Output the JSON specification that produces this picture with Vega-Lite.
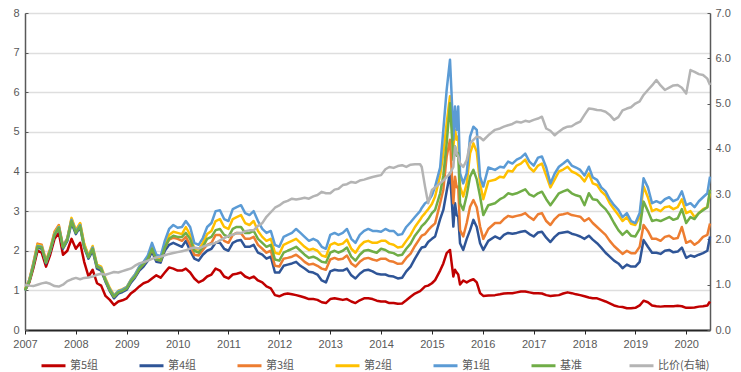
{
"$schema": "https://vega.github.io/schema/vega-lite/v6.json",
"width": 685, "height": 317,
"autosize": {"type": "none"},
"padding": {"left": 25, "top": 13, "right": 31, "bottom": 42},
"background": "white",
"config": {"view": {"stroke": null}, "axis": {"labelFont": "Liberation Sans", "labelFontSize": 11, "labelColor": "#595959"}},
"data": {"values": [
{"d":"2007-01-01","a5":1.0,"a4":1.0,"a3":1.02,"a2":1.02,"a1":1.0,"jz":1.0,"r":1.0},
{"d":"2007-02-01","a5":1.2,"a4":1.24,"a3":1.27,"a2":1.26,"a1":1.25,"jz":1.22,"r":0.98},
{"d":"2007-03-01","a5":1.55,"a4":1.62,"a3":1.68,"a2":1.66,"a1":1.64,"jz":1.6,"r":0.97},
{"d":"2007-04-01","a5":2.0,"a4":2.08,"a3":2.18,"a2":2.15,"a1":2.12,"jz":2.1,"r":1.0},
{"d":"2007-05-01","a5":1.95,"a4":2.05,"a3":2.15,"a2":2.12,"a1":2.1,"jz":2.08,"r":1.03},
{"d":"2007-06-01","a5":1.6,"a4":1.68,"a3":1.75,"a2":1.72,"a1":1.7,"jz":1.7,"r":1.05},
{"d":"2007-07-01","a5":1.9,"a4":1.98,"a3":2.05,"a2":2.02,"a1":2.0,"jz":2.0,"r":1.02},
{"d":"2007-08-01","a5":2.3,"a4":2.4,"a3":2.48,"a2":2.45,"a1":2.42,"jz":2.4,"r":0.97},
{"d":"2007-09-01","a5":2.45,"a4":2.58,"a3":2.65,"a2":2.62,"a1":2.6,"jz":2.58,"r":0.96},
{"d":"2007-10-01","a5":1.9,"a4":2.05,"a3":2.12,"a2":2.1,"a1":2.1,"jz":2.08,"r":1.0},
{"d":"2007-11-01","a5":2.0,"a4":2.25,"a3":2.32,"a2":2.3,"a1":2.3,"jz":2.28,"r":1.08},
{"d":"2007-12-01","a5":2.3,"a4":2.7,"a3":2.8,"a2":2.83,"a1":2.78,"jz":2.75,"r":1.12},
{"d":"2008-01-01","a5":2.05,"a4":2.42,"a3":2.5,"a2":2.52,"a1":2.48,"jz":2.45,"r":1.15},
{"d":"2008-02-01","a5":2.2,"a4":2.6,"a3":2.68,"a2":2.7,"a1":2.65,"jz":2.62,"r":1.12},
{"d":"2008-03-01","a5":1.72,"a4":2.08,"a3":2.15,"a2":2.18,"a1":2.12,"jz":2.1,"r":1.15},
{"d":"2008-04-01","a5":1.35,"a4":1.8,"a3":1.86,"a2":1.88,"a1":1.85,"jz":1.83,"r":1.16},
{"d":"2008-05-01","a5":1.52,"a4":2.0,"a3":2.08,"a2":2.12,"a1":2.08,"jz":2.05,"r":1.18},
{"d":"2008-06-01","a5":1.18,"a4":1.55,"a3":1.6,"a2":1.65,"a1":1.62,"jz":1.6,"r":1.22},
{"d":"2008-07-01","a5":1.12,"a4":1.5,"a3":1.55,"a2":1.6,"a1":1.56,"jz":1.54,"r":1.24},
{"d":"2008-08-01","a5":0.86,"a4":1.22,"a3":1.26,"a2":1.3,"a1":1.27,"jz":1.25,"r":1.22},
{"d":"2008-09-01","a5":0.76,"a4":0.98,"a3":1.02,"a2":1.06,"a1":1.03,"jz":1.0,"r":1.25},
{"d":"2008-10-01","a5":0.63,"a4":0.8,"a3":0.84,"a2":0.88,"a1":0.86,"jz":0.84,"r":1.28},
{"d":"2008-11-01","a5":0.72,"a4":0.92,"a3":0.96,"a2":0.99,"a1":0.98,"jz":0.95,"r":1.27},
{"d":"2008-12-01","a5":0.75,"a4":0.96,"a3":1.0,"a2":1.03,"a1":1.02,"jz":0.99,"r":1.3},
{"d":"2009-01-01","a5":0.8,"a4":1.02,"a3":1.06,"a2":1.09,"a1":1.08,"jz":1.05,"r":1.33},
{"d":"2009-02-01","a5":0.93,"a4":1.2,"a3":1.25,"a2":1.28,"a1":1.27,"jz":1.24,"r":1.36},
{"d":"2009-03-01","a5":1.0,"a4":1.32,"a3":1.36,"a2":1.4,"a1":1.4,"jz":1.35,"r":1.42},
{"d":"2009-04-01","a5":1.1,"a4":1.5,"a3":1.55,"a2":1.6,"a1":1.6,"jz":1.55,"r":1.47},
{"d":"2009-05-01","a5":1.18,"a4":1.6,"a3":1.66,"a2":1.7,"a1":1.72,"jz":1.66,"r":1.5},
{"d":"2009-06-01","a5":1.22,"a4":1.75,"a3":1.8,"a2":1.84,"a1":1.88,"jz":1.8,"r":1.53},
{"d":"2009-07-01","a5":1.3,"a4":1.98,"a3":2.05,"a2":2.12,"a1":2.2,"jz":2.05,"r":1.57},
{"d":"2009-08-01","a5":1.38,"a4":1.72,"a3":1.78,"a2":1.83,"a1":1.9,"jz":1.78,"r":1.6},
{"d":"2009-09-01","a5":1.32,"a4":1.7,"a3":1.75,"a2":1.8,"a1":1.86,"jz":1.75,"r":1.62},
{"d":"2009-10-01","a5":1.45,"a4":2.0,"a3":2.08,"a2":2.15,"a1":2.25,"jz":2.08,"r":1.65},
{"d":"2009-11-01","a5":1.58,"a4":2.15,"a3":2.28,"a2":2.4,"a1":2.55,"jz":2.3,"r":1.68},
{"d":"2009-12-01","a5":1.55,"a4":2.2,"a3":2.33,"a2":2.48,"a1":2.65,"jz":2.38,"r":1.7},
{"d":"2010-01-01","a5":1.5,"a4":2.15,"a3":2.3,"a2":2.45,"a1":2.58,"jz":2.35,"r":1.72},
{"d":"2010-02-01","a5":1.5,"a4":2.1,"a3":2.25,"a2":2.42,"a1":2.6,"jz":2.35,"r":1.74},
{"d":"2010-03-01","a5":1.55,"a4":2.25,"a3":2.35,"a2":2.6,"a1":2.75,"jz":2.45,"r":1.76},
{"d":"2010-04-01","a5":1.45,"a4":2.0,"a3":2.15,"a2":2.4,"a1":2.6,"jz":2.3,"r":1.8},
{"d":"2010-05-01","a5":1.3,"a4":1.8,"a3":1.9,"a2":2.05,"a1":2.2,"jz":2.0,"r":1.82},
{"d":"2010-06-01","a5":1.2,"a4":1.75,"a3":1.88,"a2":2.03,"a1":2.15,"jz":1.95,"r":1.8},
{"d":"2010-07-01","a5":1.25,"a4":1.9,"a3":2.02,"a2":2.2,"a1":2.32,"jz":2.1,"r":1.84},
{"d":"2010-08-01","a5":1.35,"a4":2.0,"a3":2.15,"a2":2.42,"a1":2.6,"jz":2.3,"r":1.87},
{"d":"2010-09-01","a5":1.4,"a4":2.05,"a3":2.2,"a2":2.5,"a1":2.7,"jz":2.35,"r":1.9},
{"d":"2010-10-01","a5":1.55,"a4":2.2,"a3":2.4,"a2":2.75,"a1":3.0,"jz":2.52,"r":1.92},
{"d":"2010-11-01","a5":1.5,"a4":2.2,"a3":2.4,"a2":2.8,"a1":3.02,"jz":2.55,"r":1.98},
{"d":"2010-12-01","a5":1.35,"a4":2.05,"a3":2.25,"a2":2.6,"a1":2.8,"jz":2.4,"r":2.03},
{"d":"2011-01-01","a5":1.3,"a4":2.0,"a3":2.2,"a2":2.55,"a1":2.75,"jz":2.35,"r":2.08},
{"d":"2011-02-01","a5":1.4,"a4":2.2,"a3":2.4,"a2":2.8,"a1":3.05,"jz":2.55,"r":2.1},
{"d":"2011-03-01","a5":1.42,"a4":2.25,"a3":2.45,"a2":2.85,"a1":3.1,"jz":2.6,"r":2.14},
{"d":"2011-04-01","a5":1.45,"a4":2.27,"a3":2.44,"a2":2.9,"a1":3.15,"jz":2.6,"r":2.14},
{"d":"2011-05-01","a5":1.35,"a4":2.1,"a3":2.3,"a2":2.7,"a1":2.95,"jz":2.45,"r":2.18},
{"d":"2011-06-01","a5":1.3,"a4":2.1,"a3":2.3,"a2":2.65,"a1":2.9,"jz":2.45,"r":2.2},
{"d":"2011-07-01","a5":1.35,"a4":2.15,"a3":2.35,"a2":2.75,"a1":3.0,"jz":2.5,"r":2.2},
{"d":"2011-08-01","a5":1.25,"a4":1.95,"a3":2.15,"a2":2.5,"a1":2.75,"jz":2.3,"r":2.3},
{"d":"2011-09-01","a5":1.2,"a4":1.9,"a3":2.05,"a2":2.35,"a1":2.55,"jz":2.2,"r":2.36},
{"d":"2011-10-01","a5":1.1,"a4":1.8,"a3":1.95,"a2":2.25,"a1":2.45,"jz":2.1,"r":2.5},
{"d":"2011-11-01","a5":1.05,"a4":1.85,"a3":2.0,"a2":2.3,"a1":2.5,"jz":2.15,"r":2.6},
{"d":"2011-12-01","a5":0.88,"a4":1.45,"a3":1.62,"a2":1.95,"a1":2.15,"jz":1.78,"r":2.7},
{"d":"2012-01-01","a5":0.85,"a4":1.45,"a3":1.6,"a2":1.92,"a1":2.1,"jz":1.75,"r":2.75},
{"d":"2012-02-01","a5":0.9,"a4":1.62,"a3":1.8,"a2":2.15,"a1":2.35,"jz":1.95,"r":2.82},
{"d":"2012-03-01","a5":0.92,"a4":1.65,"a3":1.82,"a2":2.2,"a1":2.4,"jz":2.0,"r":2.85},
{"d":"2012-04-01","a5":0.9,"a4":1.68,"a3":1.85,"a2":2.25,"a1":2.45,"jz":2.05,"r":2.9},
{"d":"2012-05-01","a5":0.88,"a4":1.72,"a3":1.9,"a2":2.3,"a1":2.55,"jz":2.1,"r":2.88},
{"d":"2012-06-01","a5":0.85,"a4":1.62,"a3":1.82,"a2":2.2,"a1":2.45,"jz":2.0,"r":2.9},
{"d":"2012-07-01","a5":0.82,"a4":1.55,"a3":1.72,"a2":2.1,"a1":2.35,"jz":1.9,"r":2.92},
{"d":"2012-08-01","a5":0.78,"a4":1.47,"a3":1.65,"a2":2.02,"a1":2.25,"jz":1.82,"r":2.9},
{"d":"2012-09-01","a5":0.78,"a4":1.45,"a3":1.67,"a2":2.05,"a1":2.3,"jz":1.85,"r":2.95},
{"d":"2012-10-01","a5":0.76,"a4":1.4,"a3":1.62,"a2":2.0,"a1":2.25,"jz":1.8,"r":2.98},
{"d":"2012-11-01","a5":0.7,"a4":1.25,"a3":1.55,"a2":1.88,"a1":2.1,"jz":1.72,"r":3.05},
{"d":"2012-12-01","a5":0.68,"a4":1.2,"a3":1.52,"a2":1.85,"a1":2.05,"jz":1.7,"r":3.02},
{"d":"2013-01-01","a5":0.78,"a4":1.48,"a3":1.78,"a2":2.15,"a1":2.4,"jz":1.95,"r":3.02},
{"d":"2013-02-01","a5":0.8,"a4":1.52,"a3":1.82,"a2":2.2,"a1":2.45,"jz":2.0,"r":3.1},
{"d":"2013-03-01","a5":0.78,"a4":1.5,"a3":1.78,"a2":2.15,"a1":2.4,"jz":1.95,"r":3.12},
{"d":"2013-04-01","a5":0.76,"a4":1.5,"a3":1.8,"a2":2.18,"a1":2.45,"jz":2.0,"r":3.2},
{"d":"2013-05-01","a5":0.78,"a4":1.55,"a3":1.88,"a2":2.28,"a1":2.55,"jz":2.08,"r":3.22},
{"d":"2013-06-01","a5":0.72,"a4":1.38,"a3":1.68,"a2":2.05,"a1":2.3,"jz":1.85,"r":3.27},
{"d":"2013-07-01","a5":0.68,"a4":1.3,"a3":1.6,"a2":1.95,"a1":2.2,"jz":1.75,"r":3.25},
{"d":"2013-08-01","a5":0.75,"a4":1.42,"a3":1.72,"a2":2.12,"a1":2.4,"jz":1.9,"r":3.3},
{"d":"2013-09-01","a5":0.8,"a4":1.5,"a3":1.8,"a2":2.22,"a1":2.5,"jz":2.0,"r":3.32},
{"d":"2013-10-01","a5":0.8,"a4":1.52,"a3":1.82,"a2":2.25,"a1":2.55,"jz":2.02,"r":3.35},
{"d":"2013-11-01","a5":0.78,"a4":1.48,"a3":1.78,"a2":2.2,"a1":2.5,"jz":1.98,"r":3.38},
{"d":"2013-12-01","a5":0.74,"a4":1.42,"a3":1.75,"a2":2.2,"a1":2.5,"jz":1.95,"r":3.4},
{"d":"2014-01-01","a5":0.72,"a4":1.4,"a3":1.8,"a2":2.25,"a1":2.48,"jz":2.05,"r":3.42},
{"d":"2014-02-01","a5":0.72,"a4":1.4,"a3":1.8,"a2":2.25,"a1":2.55,"jz":2.02,"r":3.55},
{"d":"2014-03-01","a5":0.68,"a4":1.36,"a3":1.74,"a2":2.18,"a1":2.5,"jz":1.96,"r":3.6},
{"d":"2014-04-01","a5":0.68,"a4":1.35,"a3":1.72,"a2":2.15,"a1":2.5,"jz":1.94,"r":3.58},
{"d":"2014-05-01","a5":0.66,"a4":1.3,"a3":1.67,"a2":2.08,"a1":2.4,"jz":1.88,"r":3.62},
{"d":"2014-06-01","a5":0.67,"a4":1.32,"a3":1.68,"a2":2.1,"a1":2.42,"jz":1.9,"r":3.64},
{"d":"2014-07-01","a5":0.75,"a4":1.48,"a3":1.82,"a2":2.25,"a1":2.6,"jz":2.05,"r":3.6},
{"d":"2014-08-01","a5":0.84,"a4":1.6,"a3":1.93,"a2":2.4,"a1":2.72,"jz":2.18,"r":3.65},
{"d":"2014-09-01","a5":0.92,"a4":1.8,"a3":2.12,"a2":2.6,"a1":2.85,"jz":2.38,"r":3.66},
{"d":"2014-10-08","a5":0.98,"a4":2.02,"a3":2.32,"a2":2.78,"a1":3.0,"jz":2.55,"r":3.66},
{"d":"2014-10-20","a5":1.02,"a4":2.08,"a3":2.38,"a2":2.85,"a1":3.08,"jz":2.62,"r":3.6},
{"d":"2014-11-13","a5":1.1,"a4":2.1,"a3":2.42,"a2":2.95,"a1":3.2,"jz":2.7,"r":3.16},
{"d":"2014-12-05","a5":1.12,"a4":2.22,"a3":2.52,"a2":3.05,"a1":3.25,"jz":2.8,"r":2.8},
{"d":"2015-01-01","a5":1.18,"a4":2.3,"a3":2.62,"a2":3.18,"a1":3.4,"jz":2.95,"r":3.09},
{"d":"2015-01-24","a5":1.26,"a4":2.36,"a3":2.69,"a2":3.37,"a1":3.62,"jz":3.03,"r":3.15},
{"d":"2015-03-01","a5":1.5,"a4":2.8,"a3":3.2,"a2":3.9,"a1":4.1,"jz":3.45,"r":3.24},
{"d":"2015-03-24","a5":1.68,"a4":3.03,"a3":3.54,"a2":4.46,"a1":5.05,"jz":3.9,"r":3.3},
{"d":"2015-04-17","a5":1.94,"a4":3.5,"a3":4.38,"a2":5.22,"a1":6.06,"jz":4.71,"r":3.38},
{"d":"2015-05-11","a5":2.02,"a4":3.96,"a3":4.8,"a2":5.9,"a1":6.82,"jz":5.72,"r":3.45},
{"d":"2015-05-23","a5":1.68,"a4":3.3,"a3":4.0,"a2":5.3,"a1":5.9,"jz":5.0,"r":3.53},
{"d":"2015-06-04","a5":1.35,"a4":2.61,"a3":3.2,"a2":4.63,"a1":4.8,"jz":4.29,"r":3.6},
{"d":"2015-06-16","a5":1.52,"a4":3.2,"a3":3.87,"a2":5.05,"a1":5.64,"jz":4.63,"r":4.05},
{"d":"2015-06-28","a5":1.45,"a4":2.9,"a3":3.6,"a2":4.8,"a1":5.05,"jz":4.4,"r":3.9},
{"d":"2015-07-09","a5":1.4,"a4":2.86,"a3":3.62,"a2":4.88,"a1":5.64,"jz":4.46,"r":3.83},
{"d":"2015-07-22","a5":1.15,"a4":2.19,"a3":2.52,"a2":3.62,"a1":3.96,"jz":3.2,"r":3.68},
{"d":"2015-08-14","a5":1.25,"a4":2.02,"a3":2.36,"a2":3.37,"a1":3.7,"jz":3.03,"r":3.6},
{"d":"2015-09-08","a5":1.2,"a4":2.3,"a3":2.7,"a2":3.7,"a1":3.96,"jz":3.4,"r":3.75},
{"d":"2015-10-02","a5":1.25,"a4":2.52,"a3":3.11,"a2":4.46,"a1":4.88,"jz":3.87,"r":4.12},
{"d":"2015-10-26","a5":1.28,"a4":2.78,"a3":3.28,"a2":4.71,"a1":5.13,"jz":4.04,"r":4.2},
{"d":"2015-11-19","a5":1.2,"a4":2.6,"a3":3.1,"a2":4.5,"a1":5.05,"jz":3.8,"r":4.27},
{"d":"2015-12-13","a5":0.93,"a4":2.19,"a3":2.61,"a2":3.7,"a1":3.87,"jz":3.37,"r":4.25},
{"d":"2016-01-05","a5":0.86,"a4":2.02,"a3":2.3,"a2":3.3,"a1":3.62,"jz":2.9,"r":4.19},
{"d":"2016-02-10","a5":0.87,"a4":2.25,"a3":2.55,"a2":3.75,"a1":4.1,"jz":3.15,"r":4.3},
{"d":"2016-03-29","a5":0.88,"a4":2.36,"a3":2.7,"a2":3.79,"a1":4.04,"jz":3.2,"r":4.42},
{"d":"2016-05-04","a5":0.9,"a4":2.3,"a3":2.7,"a2":3.87,"a1":4.12,"jz":3.3,"r":4.45},
{"d":"2016-06-01","a5":0.92,"a4":2.4,"a3":2.8,"a2":3.85,"a1":4.1,"jz":3.35,"r":4.49},
{"d":"2016-07-01","a5":0.93,"a4":2.45,"a3":2.88,"a2":4.02,"a1":4.25,"jz":3.45,"r":4.52},
{"d":"2016-08-01","a5":0.93,"a4":2.43,"a3":2.85,"a2":4.0,"a1":4.2,"jz":3.42,"r":4.55},
{"d":"2016-09-01","a5":0.95,"a4":2.45,"a3":2.88,"a2":4.15,"a1":4.3,"jz":3.45,"r":4.6},
{"d":"2016-10-01","a5":0.97,"a4":2.48,"a3":2.9,"a2":4.2,"a1":4.35,"jz":3.5,"r":4.58},
{"d":"2016-11-01","a5":0.97,"a4":2.5,"a3":2.95,"a2":4.3,"a1":4.45,"jz":3.55,"r":4.62},
{"d":"2016-12-01","a5":0.95,"a4":2.42,"a3":2.85,"a2":4.1,"a1":4.25,"jz":3.42,"r":4.6},
{"d":"2017-01-01","a5":0.93,"a4":2.36,"a3":2.78,"a2":4.0,"a1":4.15,"jz":3.37,"r":4.64},
{"d":"2017-02-01","a5":0.93,"a4":2.46,"a3":2.92,"a2":4.15,"a1":4.35,"jz":3.45,"r":4.67},
{"d":"2017-03-01","a5":0.92,"a4":2.48,"a3":2.95,"a2":4.2,"a1":4.38,"jz":3.49,"r":4.71},
{"d":"2017-04-01","a5":0.88,"a4":2.33,"a3":2.75,"a2":3.9,"a1":4.1,"jz":3.3,"r":4.45},
{"d":"2017-05-01","a5":0.86,"a4":2.22,"a3":2.65,"a2":3.6,"a1":3.7,"jz":3.15,"r":4.4},
{"d":"2017-06-01","a5":0.87,"a4":2.35,"a3":2.8,"a2":3.8,"a1":3.95,"jz":3.3,"r":4.3},
{"d":"2017-07-01","a5":0.88,"a4":2.44,"a3":2.9,"a2":4.0,"a1":4.12,"jz":3.45,"r":4.38},
{"d":"2017-08-01","a5":0.92,"a4":2.46,"a3":2.92,"a2":4.05,"a1":4.2,"jz":3.5,"r":4.45},
{"d":"2017-09-01","a5":0.95,"a4":2.48,"a3":2.95,"a2":4.12,"a1":4.29,"jz":3.54,"r":4.49},
{"d":"2017-10-01","a5":0.93,"a4":2.43,"a3":2.9,"a2":4.0,"a1":4.15,"jz":3.45,"r":4.5},
{"d":"2017-11-01","a5":0.9,"a4":2.4,"a3":2.88,"a2":3.95,"a1":4.1,"jz":3.4,"r":4.56},
{"d":"2017-12-01","a5":0.88,"a4":2.36,"a3":2.86,"a2":3.88,"a1":4.04,"jz":3.37,"r":4.6},
{"d":"2018-01-01","a5":0.85,"a4":2.3,"a3":2.75,"a2":3.75,"a1":3.9,"jz":3.15,"r":4.75},
{"d":"2018-02-01","a5":0.82,"a4":2.38,"a3":2.82,"a2":3.95,"a1":4.12,"jz":3.45,"r":4.89},
{"d":"2018-03-01","a5":0.8,"a4":2.28,"a3":2.7,"a2":3.7,"a1":3.85,"jz":3.3,"r":4.88},
{"d":"2018-04-01","a5":0.8,"a4":2.19,"a3":2.6,"a2":3.66,"a1":3.79,"jz":3.28,"r":4.86},
{"d":"2018-05-01","a5":0.76,"a4":2.08,"a3":2.5,"a2":3.5,"a1":3.6,"jz":3.15,"r":4.85},
{"d":"2018-06-01","a5":0.72,"a4":1.95,"a3":2.4,"a2":3.4,"a1":3.5,"jz":3.05,"r":4.82},
{"d":"2018-07-01","a5":0.67,"a4":1.85,"a3":2.25,"a2":3.2,"a1":3.3,"jz":2.9,"r":4.75},
{"d":"2018-08-01","a5":0.62,"a4":1.75,"a3":2.12,"a2":3.05,"a1":3.15,"jz":2.7,"r":4.64},
{"d":"2018-09-01","a5":0.59,"a4":1.68,"a3":2.02,"a2":2.9,"a1":3.03,"jz":2.52,"r":4.7},
{"d":"2018-10-01","a5":0.58,"a4":1.56,"a3":1.92,"a2":2.75,"a1":2.85,"jz":2.4,"r":4.85},
{"d":"2018-11-01","a5":0.55,"a4":1.65,"a3":2.0,"a2":2.85,"a1":2.95,"jz":2.5,"r":4.89},
{"d":"2018-12-01","a5":0.55,"a4":1.6,"a3":1.94,"a2":2.68,"a1":2.75,"jz":2.38,"r":4.92},
{"d":"2019-01-01","a5":0.56,"a4":1.6,"a3":1.94,"a2":2.65,"a1":2.7,"jz":2.36,"r":5.0},
{"d":"2019-02-01","a5":0.62,"a4":1.72,"a3":2.1,"a2":2.85,"a1":2.95,"jz":2.55,"r":5.05},
{"d":"2019-03-01","a5":0.74,"a4":2.27,"a3":2.65,"a2":3.62,"a1":3.83,"jz":3.24,"r":5.19},
{"d":"2019-04-01","a5":0.7,"a4":2.1,"a3":2.5,"a2":3.35,"a1":3.6,"jz":3.0,"r":5.3},
{"d":"2019-05-01","a5":0.62,"a4":1.95,"a3":2.3,"a2":3.0,"a1":3.2,"jz":2.75,"r":5.4},
{"d":"2019-06-01","a5":0.6,"a4":1.95,"a3":2.3,"a2":3.05,"a1":3.25,"jz":2.78,"r":5.52},
{"d":"2019-07-01","a5":0.59,"a4":1.92,"a3":2.25,"a2":3.0,"a1":3.2,"jz":2.75,"r":5.4},
{"d":"2019-08-01","a5":0.6,"a4":2.0,"a3":2.35,"a2":3.1,"a1":3.3,"jz":2.8,"r":5.3},
{"d":"2019-09-01","a5":0.6,"a4":2.02,"a3":2.38,"a2":3.12,"a1":3.35,"jz":2.85,"r":5.35},
{"d":"2019-10-01","a5":0.6,"a4":1.96,"a3":2.3,"a2":3.05,"a1":3.25,"jz":2.78,"r":5.4},
{"d":"2019-11-01","a5":0.61,"a4":1.98,"a3":2.32,"a2":3.1,"a1":3.3,"jz":2.82,"r":5.41},
{"d":"2019-12-01","a5":0.6,"a4":2.08,"a3":2.6,"a2":3.3,"a1":3.5,"jz":3.05,"r":5.35},
{"d":"2020-01-01","a5":0.56,"a4":1.82,"a3":2.2,"a2":2.95,"a1":3.15,"jz":2.7,"r":5.22},
{"d":"2020-02-01","a5":0.56,"a4":1.88,"a3":2.25,"a2":3.0,"a1":3.2,"jz":2.85,"r":5.74},
{"d":"2020-03-01","a5":0.57,"a4":1.85,"a3":2.15,"a2":2.85,"a1":3.1,"jz":2.8,"r":5.7},
{"d":"2020-04-01","a5":0.59,"a4":1.9,"a3":2.23,"a2":2.95,"a1":3.25,"jz":2.95,"r":5.65},
{"d":"2020-05-01","a5":0.6,"a4":1.94,"a3":2.35,"a2":3.05,"a1":3.35,"jz":3.02,"r":5.63},
{"d":"2020-06-01","a5":0.62,"a4":2.0,"a3":2.4,"a2":3.1,"a1":3.45,"jz":3.1,"r":5.55},
{"d":"2020-06-20","a5":0.72,"a4":2.36,"a3":2.69,"a2":3.45,"a1":3.87,"jz":3.54,"r":5.41}
]},
"encoding": {
  "x": {"field": "d", "type": "temporal",
    "scale": {"type": "utc", "domain": [{"year": 2007, "month": 1, "date": 1, "utc": true}, {"year": 2020, "month": 6, "date": 20, "utc": true}]},
    "axis": {"title": null, "grid": false, "format": "%Y", "labelAngle": 0,
      "values": [{"year":2007,"month":1,"date":1,"utc":true},{"year":2008,"month":1,"date":1,"utc":true},{"year":2009,"month":1,"date":1,"utc":true},{"year":2010,"month":1,"date":1,"utc":true},{"year":2011,"month":1,"date":1,"utc":true},{"year":2012,"month":1,"date":1,"utc":true},{"year":2013,"month":1,"date":1,"utc":true},{"year":2014,"month":1,"date":1,"utc":true},{"year":2015,"month":1,"date":1,"utc":true},{"year":2016,"month":1,"date":1,"utc":true},{"year":2017,"month":1,"date":1,"utc":true},{"year":2018,"month":1,"date":1,"utc":true},{"year":2019,"month":1,"date":1,"utc":true},{"year":2020,"month":1,"date":1,"utc":true}],
      "domainColor": "#262626", "domainWidth": 2, "tickColor": "#262626", "tickSize": 4, "tickWidth": 1, "labelPadding": 4, "labelFlush": false, "labelOverlap": false}}
},
"layer": [
  {"transform": [{"fold": ["a5", "a4", "a3", "a2", "a1", "jz"], "as": ["k", "v"]}],
   "mark": {"type": "line", "strokeWidth": 2.5, "strokeJoin": "round"},
   "encoding": {
     "y": {"field": "v", "type": "quantitative", "scale": {"domain": [0, 8], "nice": false},
       "axis": {"title": null, "values": [0,1,2,3,4,5,6,7,8], "format": "d", "grid": true, "gridColor": "#dedede", "gridWidth": 1.5, "domainColor": "#595959", "domainWidth": 1.5, "tickColor": "#595959", "tickSize": -3, "labelPadding": 9}},
     "color": {"field": "k", "type": "nominal",
       "scale": {"domain": ["a5", "a4", "a3", "a2", "a1", "jz", "r"], "range": ["#c00000", "#2f5597", "#ed7d31", "#ffc000", "#5b9bd5", "#70ad47", "#b4b4b4"]},
       "legend": {"orient": "none", "legendX": 15, "legendY": 339, "direction": "horizontal", "columns": 7, "gridAlign": "all", "columnPadding": 11, "symbolType": "stroke", "symbolSize": 576, "symbolStrokeWidth": 3, "labelOffset": 3, "labelFont": "Noto Sans CJK SC", "labelFontSize": 11, "labelColor": "#595959", "title": null,
         "labelExpr": "{'a5':'第5组','a4':'第4组','a3':'第3组','a2':'第2组','a1':'第1组','jz':'基准','r':'比价(右轴)'}[datum.value]"}}
   }},
  {"mark": {"type": "line", "strokeWidth": 2.5, "strokeJoin": "round"},
   "encoding": {
     "y": {"field": "r", "type": "quantitative", "scale": {"domain": [0, 7], "nice": false},
       "axis": {"orient": "right", "title": null, "values": [0,1,2,3,4,5,6,7], "format": ".1f", "grid": false, "domainColor": "#595959", "domainWidth": 1.5, "tickColor": "#595959", "tickSize": -3, "labelPadding": 8}},
     "color": {"datum": "r", "type": "nominal"}
   }}
],
"resolve": {"scale": {"y": "independent"}}
}
